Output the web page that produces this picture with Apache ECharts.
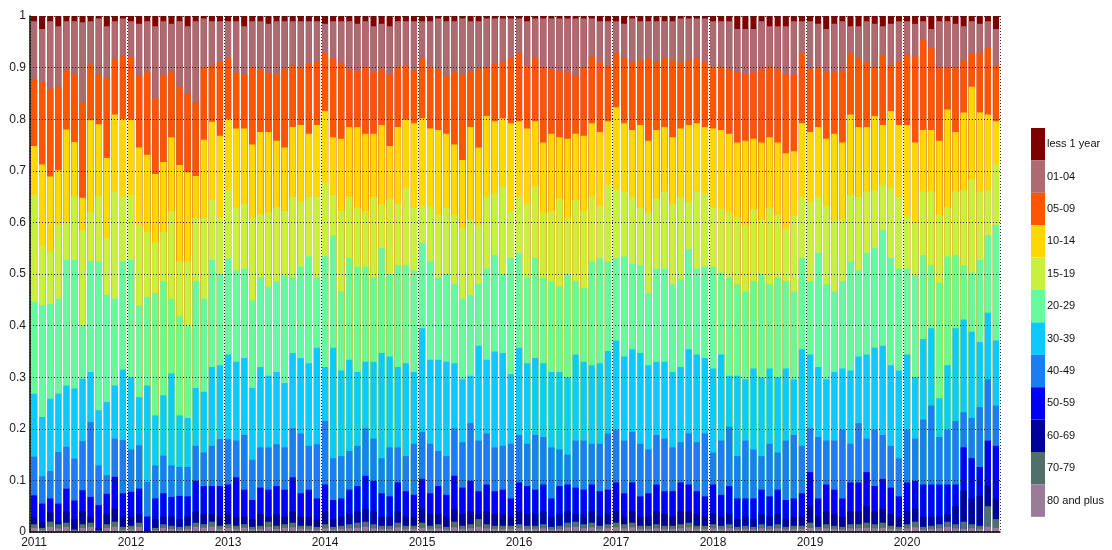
<!DOCTYPE html>
<html><head><meta charset="utf-8">
<script src="https://cdn.jsdelivr.net/npm/echarts@6/dist/echarts.min.js"></script>
<style>html,body{margin:0;padding:0;background:#fff}#c{width:1112px;height:550px}</style>
</head><body><div id="c"></div><script>
// Tick labels (years) and month suffixes -> 120 monthly categories
const years = ['2011','2012','2013','2014','2015','2016','2017','2018','2019','2020'];
const months = ['01','02','03','04','05','06','07','08','09','10','11','12'];

// Age bands (legend order, top of stack first)
const bandNames = ['less 1 year','01-04','05-09','10-14','15-19','20-29','30-39','40-49','50-59','60-69','70-79','80 and plus'];

// Cumulative share at the TOP of each band, one row per year
const topLess1Year = [
1,1,1,1,1,1,1,1,1,1,1,1, 1,1,1,1,1,1,1,1,1,1,1,1, 1,1,1,1,1,1,1,1,1,1,1,1,
1,1,1,1,1,1,1,1,1,1,1,1, 1,1,1,1,1,1,1,1,1,1,1,1, 1,1,1,1,1,1,1,1,1,1,1,1,
1,1,1,1,1,1,1,1,1,1,1,1, 1,1,1,1,1,1,1,1,1,1,1,1, 1,1,1,1,1,1,1,1,1,1,1,1,
1,1,1,1,1,1,1,1,1,1,1,1];
const top01_04 = [
0.99,0.975,0.99,0.98,0.99,0.99,0.988,0.99,0.995,0.98,0.99,0.995,
0.99,0.985,0.99,0.98,0.99,0.985,0.99,0.98,0.99,0.995,0.99,0.99,
0.99,0.99,0.98,0.99,0.99,0.985,0.99,0.99,0.99,0.99,0.99,0.99,
0.985,0.99,0.99,0.99,0.985,0.99,0.98,0.985,0.98,0.99,0.99,0.99,
0.99,0.99,0.995,0.99,0.99,0.995,0.99,0.99,0.995,0.995,0.995,0.995,
0.995,0.99,0.995,0.995,0.995,0.995,0.995,0.995,0.995,0.995,0.99,0.99,
0.99,0.985,0.995,0.99,0.99,0.99,0.99,0.99,0.995,0.995,0.995,0.995,
0.99,0.99,0.99,0.975,0.975,0.975,0.99,0.98,0.98,0.98,0.99,0.99,
0.99,0.985,0.975,0.985,0.99,0.98,0.98,0.99,0.985,0.98,0.985,0.99,
0.99,0.985,0.99,0.975,0.99,0.99,0.985,0.98,0.99,0.985,0.99,0.975];
const top05_09 = [
0.878,0.872,0.859,0.863,0.896,0.887,0.833,0.906,0.887,0.880,0.917,0.922,
0.921,0.884,0.891,0.840,0.885,0.891,0.863,0.850,0.833,0.900,0.905,0.911,
0.918,0.890,0.887,0.900,0.897,0.890,0.887,0.897,0.904,0.900,0.907,0.911,
0.928,0.918,0.908,0.897,0.894,0.901,0.891,0.897,0.887,0.901,0.904,0.894,
0.918,0.901,0.897,0.884,0.891,0.887,0.891,0.897,0.901,0.908,0.911,0.918,
0.928,0.904,0.918,0.901,0.897,0.894,0.891,0.884,0.901,0.921,0.911,0.904,
0.928,0.918,0.911,0.914,0.918,0.911,0.918,0.914,0.911,0.914,0.918,0.911,
0.901,0.901,0.897,0.891,0.887,0.891,0.897,0.901,0.897,0.887,0.887,0.928,
0.897,0.901,0.891,0.891,0.894,0.928,0.918,0.911,0.901,0.925,0.904,0.911,
0.925,0.921,0.955,0.938,0.901,0.901,0.901,0.914,0.928,0.928,0.938,0.904];
const top10_14 = [
0.748,0.712,0.689,0.701,0.780,0.756,0.648,0.798,0.790,0.725,0.809,0.800,
0.799,0.745,0.731,0.694,0.717,0.765,0.711,0.697,0.690,0.760,0.795,0.768,
0.800,0.782,0.782,0.751,0.775,0.775,0.758,0.745,0.785,0.789,0.772,0.789,
0.816,0.765,0.762,0.785,0.785,0.772,0.772,0.789,0.748,0.785,0.799,0.792,
0.802,0.782,0.779,0.772,0.751,0.721,0.785,0.745,0.806,0.796,0.802,0.792,
0.796,0.782,0.796,0.755,0.772,0.765,0.762,0.772,0.768,0.792,0.775,0.796,
0.823,0.792,0.779,0.789,0.758,0.779,0.785,0.765,0.782,0.789,0.792,0.785,
0.782,0.779,0.772,0.755,0.758,0.762,0.755,0.765,0.755,0.734,0.738,0.792,
0.775,0.785,0.762,0.772,0.755,0.809,0.785,0.785,0.806,0.789,0.816,0.789,
0.789,0.755,0.779,0.779,0.758,0.819,0.775,0.813,0.863,0.813,0.809,0.796];
const top15_19 = [
0.653,0.554,0.544,0.595,0.600,0.650,0.585,0.620,0.650,0.570,0.660,0.650,
0.653,0.595,0.581,0.561,0.581,0.622,0.524,0.524,0.609,0.609,0.643,0.609,
0.663,0.629,0.636,0.609,0.616,0.619,0.629,0.622,0.649,0.640,0.649,0.649,
0.677,0.653,0.622,0.649,0.629,0.622,0.649,0.636,0.646,0.636,0.666,0.629,
0.632,0.632,0.615,0.629,0.615,0.588,0.605,0.595,0.649,0.656,0.670,0.622,
0.649,0.636,0.670,0.619,0.622,0.646,0.609,0.643,0.622,0.649,0.632,0.673,
0.663,0.660,0.649,0.629,0.619,0.646,0.660,0.636,0.649,0.639,0.660,0.656,
0.629,0.626,0.619,0.609,0.595,0.626,0.605,0.629,0.615,0.588,0.612,0.649,
0.639,0.649,0.632,0.602,0.605,0.653,0.649,0.660,0.663,0.673,0.666,0.649,
0.612,0.598,0.660,0.660,0.615,0.629,0.660,0.663,0.683,0.660,0.663,0.714];
const top20_29 = [
0.446,0.440,0.442,0.452,0.527,0.527,0.400,0.525,0.524,0.460,0.452,0.524,
0.527,0.439,0.456,0.463,0.486,0.452,0.418,0.400,0.486,0.452,0.527,0.500,
0.530,0.507,0.510,0.449,0.493,0.476,0.486,0.496,0.493,0.514,0.534,0.493,
0.534,0.575,0.466,0.531,0.514,0.514,0.493,0.551,0.500,0.517,0.517,0.507,
0.561,0.524,0.493,0.500,0.480,0.452,0.459,0.480,0.510,0.537,0.500,0.531,
0.541,0.493,0.531,0.493,0.486,0.476,0.500,0.486,0.473,0.524,0.531,0.524,
0.531,0.534,0.520,0.517,0.463,0.510,0.510,0.480,0.490,0.548,0.510,0.514,
0.514,0.503,0.493,0.480,0.466,0.486,0.500,0.480,0.493,0.486,0.466,0.531,
0.486,0.541,0.480,0.466,0.486,0.524,0.507,0.541,0.551,0.585,0.531,0.510,
0.510,0.497,0.537,0.517,0.483,0.534,0.537,0.517,0.503,0.527,0.575,0.595];
const top30_39 = [
0.268,0.223,0.258,0.268,0.284,0.278,0.297,0.310,0.236,0.252,0.284,0.315,
0.300,0.261,0.284,0.226,0.265,0.307,0.226,0.221,0.279,0.272,0.320,0.323,
0.344,0.330,0.337,0.279,0.320,0.303,0.310,0.289,0.347,0.337,0.327,0.357,
0.320,0.357,0.313,0.334,0.310,0.330,0.330,0.347,0.340,0.320,0.327,0.310,
0.395,0.334,0.334,0.330,0.327,0.296,0.303,0.361,0.334,0.350,0.347,0.306,
0.357,0.327,0.337,0.327,0.310,0.310,0.300,0.344,0.330,0.323,0.327,0.351,
0.371,0.340,0.354,0.347,0.323,0.330,0.330,0.310,0.320,0.354,0.344,0.337,
0.317,0.344,0.303,0.303,0.296,0.317,0.300,0.317,0.300,0.317,0.296,0.354,
0.344,0.320,0.296,0.310,0.317,0.313,0.340,0.344,0.357,0.361,0.323,0.313,
0.344,0.300,0.374,0.395,0.259,0.323,0.395,0.412,0.388,0.368,0.425,0.371];
const top40_49 = [
0.146,0.108,0.118,0.155,0.165,0.142,0.176,0.213,0.129,0.110,0.181,0.178,
0.160,0.168,0.097,0.129,0.148,0.129,0.126,0.126,0.167,0.154,0.167,0.180,
0.180,0.177,0.188,0.140,0.164,0.164,0.170,0.164,0.201,0.191,0.167,0.170,
0.215,0.143,0.147,0.157,0.167,0.201,0.181,0.143,0.164,0.164,0.147,0.171,
0.194,0.171,0.157,0.147,0.201,0.174,0.211,0.177,0.191,0.164,0.167,0.171,
0.188,0.171,0.188,0.184,0.164,0.160,0.150,0.177,0.177,0.171,0.171,0.191,
0.198,0.177,0.194,0.171,0.160,0.188,0.181,0.164,0.174,0.191,0.174,0.191,
0.154,0.177,0.204,0.147,0.177,0.160,0.147,0.171,0.154,0.177,0.188,0.167,
0.201,0.184,0.177,0.177,0.198,0.171,0.211,0.181,0.198,0.188,0.167,0.143,
0.198,0.181,0.218,0.245,0.184,0.198,0.215,0.232,0.221,0.242,0.296,0.245];
const top50_59 = [
0.071,0.055,0.065,0.055,0.084,0.061,0.081,0.068,0.052,0.074,0.107,0.075,
0.078,0.084,0.030,0.065,0.075,0.068,0.070,0.069,0.099,0.089,0.089,0.089,
0.092,0.106,0.082,0.062,0.086,0.082,0.089,0.082,0.106,0.075,0.082,0.065,
0.092,0.062,0.065,0.082,0.089,0.109,0.099,0.075,0.069,0.096,0.079,0.072,
0.103,0.075,0.089,0.072,0.109,0.086,0.099,0.079,0.092,0.079,0.082,0.065,
0.096,0.089,0.082,0.092,0.065,0.089,0.092,0.086,0.082,0.092,0.079,0.082,
0.096,0.075,0.096,0.069,0.075,0.092,0.079,0.079,0.096,0.092,0.079,0.069,
0.092,0.072,0.089,0.065,0.065,0.065,0.082,0.069,0.082,0.062,0.065,0.075,
0.116,0.065,0.092,0.082,0.065,0.096,0.096,0.116,0.089,0.103,0.086,0.069,
0.096,0.099,0.092,0.092,0.092,0.092,0.092,0.164,0.143,0.126,0.177,0.167];
const top60_69 = [
0.028,0.020,0.038,0.020,0.040,0.025,0.040,0.030,0.008,0.035,0.045,0.030,
0.030,0.035,0.005,0.025,0.030,0.030,0.025,0.030,0.040,0.035,0.035,0.030,
0.035,0.030,0.030,0.025,0.035,0.030,0.035,0.030,0.040,0.030,0.030,0.025,
0.040,0.025,0.030,0.035,0.040,0.045,0.040,0.030,0.030,0.040,0.030,0.030,
0.045,0.035,0.035,0.030,0.045,0.035,0.040,0.035,0.040,0.035,0.035,0.030,
0.040,0.035,0.035,0.040,0.030,0.035,0.040,0.035,0.035,0.040,0.030,0.035,
0.040,0.030,0.040,0.030,0.030,0.040,0.035,0.030,0.040,0.040,0.035,0.030,
0.035,0.030,0.035,0.025,0.030,0.025,0.035,0.030,0.035,0.025,0.030,0.030,
0.050,0.030,0.040,0.035,0.030,0.040,0.040,0.050,0.040,0.045,0.035,0.030,
0.040,0.045,0.030,0.030,0.030,0.035,0.050,0.080,0.065,0.070,0.090,0.065];
const top70_79 = [
0.015,0.008,0.020,0.015,0.018,0.005,0.015,0.018,0.003,0.015,0.020,0.010,
0.012,0.018,0.002,0.008,0.015,0.012,0.010,0.012,0.018,0.015,0.020,0.012,
0.015,0.012,0.015,0.010,0.012,0.020,0.012,0.015,0.018,0.012,0.012,0.010,
0.015,0.010,0.012,0.015,0.018,0.020,0.015,0.012,0.012,0.018,0.012,0.012,
0.018,0.012,0.015,0.010,0.020,0.012,0.015,0.025,0.015,0.012,0.012,0.012,
0.015,0.012,0.012,0.015,0.010,0.012,0.018,0.020,0.015,0.018,0.012,0.015,
0.018,0.015,0.018,0.012,0.012,0.015,0.012,0.012,0.015,0.018,0.012,0.012,
0.015,0.012,0.015,0.010,0.012,0.010,0.015,0.012,0.015,0.010,0.012,0.012,
0.018,0.010,0.015,0.012,0.010,0.015,0.015,0.018,0.015,0.018,0.012,0.010,
0.015,0.020,0.010,0.012,0.015,0.020,0.015,0.020,0.015,0.012,0.050,0.025];
const top80plus = [
0.008,0.004,0.010,0.007,0.010,0.002,0.008,0.010,0.001,0.008,0.010,0.004,
0.006,0.010,0.001,0.004,0.008,0.006,0.005,0.006,0.010,0.008,0.010,0.006,
0.008,0.006,0.008,0.005,0.006,0.010,0.006,0.008,0.009,0.006,0.006,0.005,
0.007,0.005,0.006,0.007,0.008,0.010,0.007,0.006,0.006,0.009,0.006,0.006,
0.008,0.006,0.007,0.005,0.009,0.006,0.007,0.010,0.007,0.006,0.006,0.006,
0.007,0.006,0.006,0.007,0.005,0.006,0.009,0.010,0.007,0.009,0.006,0.007,
0.009,0.007,0.009,0.006,0.006,0.007,0.006,0.006,0.007,0.009,0.006,0.006,
0.007,0.006,0.007,0.005,0.006,0.005,0.007,0.006,0.007,0.005,0.006,0.006,
0.008,0.005,0.007,0.006,0.005,0.007,0.007,0.008,0.007,0.008,0.006,0.005,
0.007,0.009,0.005,0.006,0.007,0.010,0.007,0.006,0.007,0.006,0.010,0.008];

// Styles (kept separate from the data)
const bandColors = ['#800000','#ad6a70','#ff5500','#ffd800','#c8f03c','#66f99e','#0ccaff','#1a7ef2','#0000f5','#00009a','#52706a','#9a7b98'];

const categories = [];
years.forEach(y => months.forEach(m => categories.push(y + '-' + m)));
const bandTops = [topLess1Year, top01_04, top05_09, top10_14, top15_19, top20_29,
                  top30_39, top40_49, top50_59, top60_69, top70_79, top80plus];

const FONT = 'Arial, "Liberation Sans", Helvetica, sans-serif';
const chart = echarts.init(document.getElementById('c'), null, {renderer: 'canvas'});
chart.setOption({
  animation: false,
  backgroundColor: '#ffffff',
  grid: {left: 30, right: 112, top: 16, bottom: 18, containLabel: false},
  legend: {
    orient: 'vertical', left: 1031, top: 128, padding: 0,
    itemWidth: 14, itemHeight: 32.4, itemGap: 0, icon: 'rect',
    selectedMode: false,
    data: bandNames,
    textStyle: {fontSize: 11, fontFamily: FONT, color: '#111', padding: [0, 0, 0, -3]}
  },
  xAxis: {
    type: 'category', data: categories, boundaryGap: true, z: 6,
    axisLine: {show: true, lineStyle: {color: '#000', width: 1.5}},
    axisTick: {show: false},
    axisLabel: {interval: 11, margin: 5, fontSize: 12, fontFamily: FONT, color: '#1a1a1a',
                formatter: v => v.slice(0, 4)},
    splitLine: {show: true, interval: 11, lineStyle: {type: [1, 2], color: '#2a2a2a', width: 1}}
  },
  yAxis: {
    type: 'value', min: 0, max: 1, interval: 0.1, z: 6,
    axisLine: {show: true, lineStyle: {color: '#000', width: 1.5}},
    axisTick: {show: false},
    axisLabel: {margin: 4, fontSize: 12, fontFamily: FONT, color: '#1a1a1a'},
    splitLine: {show: true, lineStyle: {type: [1, 2], color: '#2a2a2a', width: 1}}
  },
  series: bandNames.map((name, k) => ({
    type: 'bar', name: name, data: bandTops[k],
    barWidth: '76%', barGap: '-100%',
    itemStyle: {color: bandColors[k]},
    emphasis: {disabled: true}
  }))
});
</script></body></html>
